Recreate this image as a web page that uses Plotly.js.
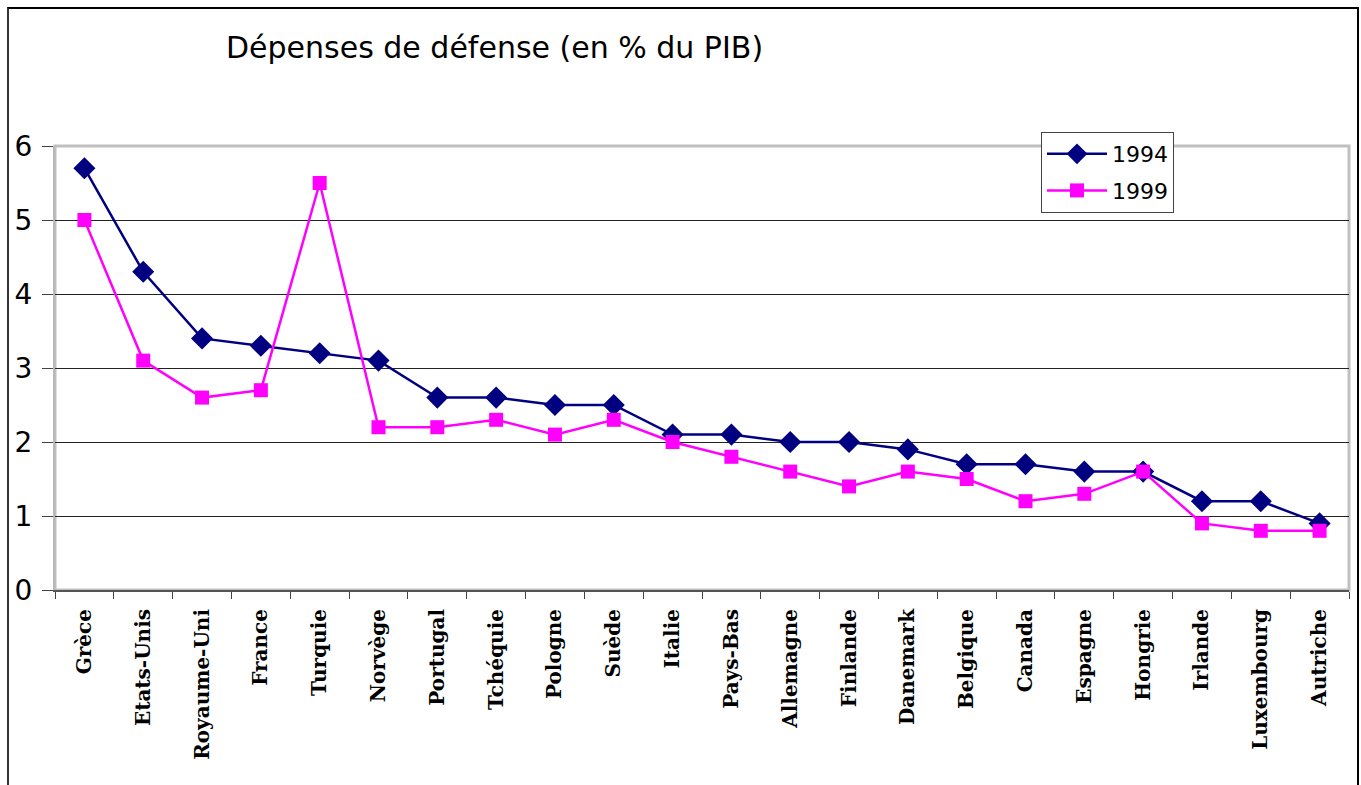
<!DOCTYPE html>
<html>
<head>
<meta charset="utf-8">
<script src="https://cdn.plot.ly/plotly-3.0.1.min.js"></script>
<style>
  html, body { margin: 0; padding: 0; background: #ffffff; overflow: hidden; }
  #frame { position: absolute; left: 7px; top: 7px; width: 1348px; height: 820px;
           border-left: 2px solid #333; border-top: 2px solid #000; border-right: 2px solid #000;
           pointer-events: none; z-index: 5; }
  #chart { position: absolute; left: 0; top: 0; width: 1361px; height: 785px; }
</style>
</head>
<body>
<div id="chart"></div>
<div id="frame"></div>
<script>
const countries = ["Grèce", "Etats-Unis", "Royaume-Uni", "France", "Turquie", "Norvège",
  "Portugal", "Tchéquie", "Pologne", "Suède", "Italie", "Pays-Bas", "Allemagne",
  "Finlande", "Danemark", "Belgique", "Canada", "Espagne", "Hongrie", "Irlande",
  "Luxembourg", "Autriche"];
const values1994 = [5.7, 4.3, 3.4, 3.3, 3.2, 3.1, 2.6, 2.6, 2.5, 2.5, 2.1, 2.1, 2.0,
  2.0, 1.9, 1.7, 1.7, 1.6, 1.6, 1.2, 1.2, 0.9];
const values1999 = [5.0, 3.1, 2.6, 2.7, 5.5, 2.2, 2.2, 2.3, 2.1, 2.3, 2.0, 1.8, 1.6,
  1.4, 1.6, 1.5, 1.2, 1.3, 1.6, 0.9, 0.8, 0.8];
const seriesNames = ["1994", "1999"];
const yTicks = [0, 1, 2, 3, 4, 5, 6];

const traces = [
  {
    x: countries, y: values1994, name: seriesNames[0], legendgroup: "g1994",
    type: "scatter", mode: "lines+markers",
    line: { color: "#000080", width: 2.5 },
    marker: { symbol: "diamond", size: 17, color: "#000080" }
  },
  {
    x: countries, y: values1999, name: seriesNames[1], legendgroup: "g1999",
    type: "scatter", mode: "lines+markers",
    line: { color: "#FF00FF", width: 2.5 },
    marker: { symbol: "square", size: 14, color: "#FF00FF" }
  }
];

const layout = {
  width: 1361, height: 785,
  margin: { l: 55, r: 12, t: 146, b: 195 },
  paper_bgcolor: "#ffffff", plot_bgcolor: "#ffffff",
  showlegend: true,
  title: {
    text: "Dépenses de défense (en % du PIB)",
    font: { family: "DejaVu Sans", size: 30, color: "#000" },
    xref: "container", yref: "container", x: 226 / 1361, xanchor: "left",
    y: 1 - 47 / 785, yanchor: "middle"
  },
  xaxis: {
    type: "category",
    tickangle: -90,
    tickson: "boundaries",
    ticks: "outside", ticklen: 7, tickcolor: "#444", tickwidth: 1,
    showline: true, linecolor: "#555", linewidth: 2,
    showgrid: false, zeroline: false,
    tickfont: { family: "DejaVu Serif", size: 20, color: "#000", weight: "bold" },
    ticklabelstandoff: 9,
    range: [-0.5, countries.length - 0.5]
  },
  yaxis: {
    range: [0, 6],
    tickvals: yTicks,
    ticks: "outside", ticklen: 11, tickcolor: "#444", tickwidth: 1,
    showline: true, linecolor: "#b8b8b8", linewidth: 2,
    showgrid: true, gridcolor: "#222", gridwidth: 1,
    zeroline: false,
    tickfont: { family: "DejaVu Sans", size: 28, color: "#000" },
    ticklabelstandoff: 4
  },
  shapes: [
    { type: "rect", xref: "paper", yref: "paper", x0: 0, x1: 1, y0: 0, y1: 1,
      line: { color: "#c0c0c0", width: 3 }, layer: "below" }
  ],
  legend: {
    x: (1041 - 55) / (1349 - 55), y: (590 - 132) / (590 - 146),
    xanchor: "left", yanchor: "top",
    bgcolor: "#ffffff", bordercolor: "#444", borderwidth: 1,
    font: { family: "DejaVu Sans", size: 22, color: "#000" },
    itemwidth: 60, tracegroupgap: 5
  }
};

Plotly.newPlot("chart", traces, layout, { displayModeBar: false, staticPlot: true });
</script>
</body>
</html>
